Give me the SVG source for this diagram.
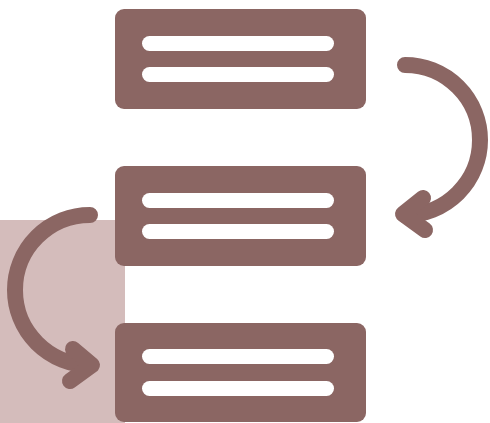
<svg xmlns="http://www.w3.org/2000/svg" width="490" height="423" viewBox="0 0 490 423">
<style>
.box{fill:#8b6663}
.bar{fill:#ffffff}
.arrow{fill:none;stroke:#8b6663;stroke-width:16;stroke-linecap:round;stroke-linejoin:round}
</style>
<rect x="0" y="220" width="125" height="203" fill="#d4bcbb"/>
<g id="node1">
<rect class="box" x="115" y="9" width="251" height="100" rx="9"/>
<rect class="bar" x="142" y="36" width="192" height="15" rx="7.5"/>
<rect class="bar" x="142" y="67" width="192" height="15" rx="7.5"/>
</g>
<g id="node2">
<rect class="box" x="115" y="166" width="251" height="100" rx="9"/>
<rect class="bar" x="142" y="193" width="192" height="15" rx="7.5"/>
<rect class="bar" x="142" y="224" width="192" height="15" rx="7.5"/>
</g>
<g id="node3">
<rect class="box" x="115" y="323" width="251" height="99" rx="9"/>
<rect class="bar" x="142" y="349" width="192" height="15" rx="7.5"/>
<rect class="bar" x="142" y="381" width="192" height="15" rx="7.5"/>
</g>
<g id="connectors">
<path class="arrow" d="M405 65 A75 75 0 0 1 405 215"/>
<polyline class="arrow" points="423,198 403,214 425,230"/>
<path class="arrow" d="M90 215 A75 75 0 0 0 90 365"/>
<polyline class="arrow" points="73,349 92,365 70,381"/>
</g>
</svg>
